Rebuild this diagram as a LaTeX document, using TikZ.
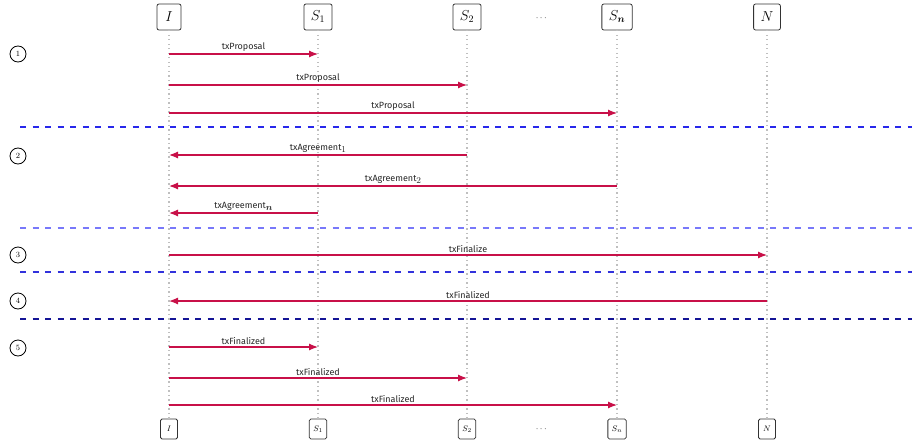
\documentclass[tikz,border=0pt]{standalone}
\usepackage{amsmath}
\usepackage{fontspec}
\setsansfont{Fira Sans}
\usetikzlibrary{arrows.meta,calc}
\definecolor{msgc}{RGB}{200,16,72}
\newcommand{\lsub}[1]{\raisebox{-0.35ex}{\small$#1$}}
\begin{document}
\begin{tikzpicture}[x=1pt,y=-1pt,
  topbox/.style={draw=black!80,rounded corners=2pt,line width=0.8pt,minimum width=24pt,minimum height=26pt,inner xsep=7pt,inner ysep=4pt,font=\Large,fill=white},
  botbox/.style={draw=black!80,rounded corners=1.5pt,line width=0.8pt,minimum width=17pt,minimum height=20pt,inner xsep=4pt,inner ysep=3pt,font=\footnotesize,fill=white},
  life/.style={draw=black!25,line width=1.1pt,dash pattern=on 1.1pt off 3.4pt},
  msg/.style={draw=msgc,line width=1.2pt,-{Latex[length=9pt,width=7pt]}},
  lab/.style={font=\sffamily\small,above=1pt,midway,inner sep=1pt,text=black!85},
  stepc/.style={draw=black,circle,line width=0.8pt,minimum size=16pt,inner sep=0pt,font=\footnotesize},
  sep/.style={line width=1.3pt,dash pattern=on 6pt off 6.5pt},
]
\useasboundingbox (0,0) rectangle (912,444);
% top nodes
\node[topbox] (tI) at (169,17) {$I$};
\node[topbox] (tS1) at (318,17) {$S_1$};
\node[topbox] (tS2) at (467,17) {$S_2$};
\node[topbox] (tSn) at (617,17) {$S_{\boldsymbol{n}}$};
\node[topbox] (tN) at (767,17) {$N$};
\node[font=\small] (tdots) at (542,18) {$\cdots$};
% bottom nodes
\node[botbox] (bI) at (169,429) {$I$};
\node[botbox] (bS1) at (318,429) {$S_1$};
\node[botbox] (bS2) at (467,429) {$S_2$};
\node[botbox] (bSn) at (617,429) {$S_n$};
\node[botbox] (bN) at (767,429) {$N$};
\node[font=\small] (bdots) at (542,429) {$\cdots$};
% lifelines
\foreach \n in {I,S1,S2,Sn,N}{\draw[life] (t\n.south) -- (b\n.north);}
% step circles
\node[stepc] (c1) at (18,54) {1};
\node[stepc] (c2) at (18,156) {2};
\node[stepc] (c3) at (18,255) {3};
\node[stepc] (c4) at (18,301) {4};
\node[stepc] (c5) at (18,348) {5};
% message rows
\coordinate (m1) at (0,54);
\coordinate (m2) at (0,85);
\coordinate (m3) at (0,113);
\coordinate (m4) at (0,155);
\coordinate (m5) at (0,186);
\coordinate (m6) at (0,213);
\coordinate (m7) at (0,255);
\coordinate (m8) at (0,301);
\coordinate (m9) at (0,347);
\coordinate (m10) at (0,378);
\coordinate (m11) at (0,405);
\draw[msg] (tI |- m1) -- (tS1 |- m1) node[lab] {txProposal};
\draw[msg] (tI |- m2) -- (tS2 |- m2) node[lab] {txProposal};
\draw[msg] (tI |- m3) -- (tSn |- m3) node[lab] {txProposal};
\draw[msg] (tS2 |- m4) -- (tI |- m4) node[lab] {txAgreement\lsub{1}};
\draw[msg] (tSn |- m5) -- (tI |- m5) node[lab] {txAgreement\lsub{2}};
\draw[msg] (tS1 |- m6) -- (tI |- m6) node[lab] {txAgreement\lsub{\boldsymbol{n}}};
\draw[msg] (tI |- m7) -- (tN |- m7) node[lab] {txFinalize};
\draw[msg] (tN |- m8) -- (tI |- m8) node[lab] {txFinalized};
\draw[msg] (tI |- m9) -- (tS1 |- m9) node[lab] {txFinalized};
\draw[msg] (tI |- m10) -- (tS2 |- m10) node[lab] {txFinalized};
\draw[msg] (tI |- m11) -- (tSn |- m11) node[lab] {txFinalized};
% separators
\coordinate (d1a) at (20,127); \coordinate (d1b) at (912,127);
\coordinate (d2a) at (20,228); \coordinate (d2b) at (912,228);
\coordinate (d3a) at (20,272); \coordinate (d3b) at (912,272);
\coordinate (d4a) at (20,319); \coordinate (d4b) at (912,319);
\draw[sep,draw={rgb,255:red,40;green,40;blue,235}] (d1a) -- (d1b);
\draw[sep,draw={rgb,255:red,120;green,120;blue,250},line width=1.6pt] (d2a) -- (d2b);
\draw[sep,draw={rgb,255:red,50;green,50;blue,220}] (d3a) -- (d3b);
\draw[sep,draw={rgb,255:red,20;green,20;blue,150}] (d4a) -- (d4b);
\end{tikzpicture}
\end{document}
